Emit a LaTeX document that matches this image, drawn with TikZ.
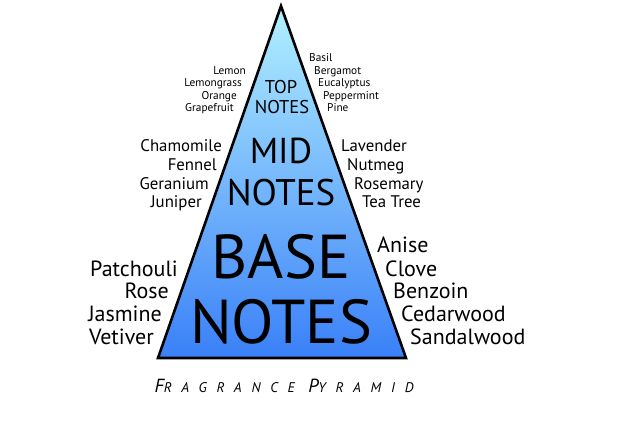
\documentclass[tikz,border=0pt]{standalone}
\usepackage{fontspec}
\setmainfont{PT Sans}
\newfontfamily\capfont[LetterSpace=70]{PT Sans Italic}
\usetikzlibrary{positioning}
\definecolor{pyrtop}{HTML}{B2F0FF}
\definecolor{pyrbot}{HTML}{3A80F8}

\begin{document}
\begin{tikzpicture}[
  x=1pt,y=-1pt,
  pyr/.style={line width=2.6pt, line join=miter, top color=pyrtop, bottom color=pyrbot},
  lnote/.style={anchor=base east, inner sep=0pt},
  rnote/.style={anchor=base west, inner sep=0pt},
  head/.style={anchor=base, inner sep=0pt},
  small/.style={font=\fontsize{11.3}{13}\selectfont},
  mid/.style={font=\fontsize{16.8}{19}\selectfont},
  big/.style={font=\fontsize{22}{25}\selectfont},
]
\useasboundingbox[fill=white] (0,0) rectangle (620,426);
% pyramid
\draw[pyr] (281,6) coordinate (apex) -- (158,358) coordinate (bl) -- (406,358) coordinate (br) -- cycle;
% headings
\node[head,font=\fontsize{18.5}{20}\selectfont] (toph1) at (281,93) {TOP};
\node[head,font=\fontsize{18.5}{20}\selectfont] (toph2) at (282,113) {NOTES};
\node[head,font=\fontsize{36}{38}\selectfont] (midh1) at (281,163) {MID};
\node[head,font=\fontsize{37}{40}\selectfont] (midh2) at (281,205) {NOTES};
\node[head,font=\fontsize{62}{64}\selectfont] (baseh1) at (281,278) {BASE};
\node[head,font=\fontsize{62}{64}\selectfont] (baseh2) at (281,343) {NOTES};
% top notes
\foreach \t/\x/\y [count=\i] in {Lemon/246/74,Lemongrass/242/86.5,Orange/237/99,Grapefruit/234/111.5}
  \node[lnote,small] (topl\i) at (\x,\y) {\t};
\foreach \t/\x/\y [count=\i] in {Basil/309/61.5,Bergamot/314/74,Eucalyptus/318/86.5,Peppermint/323/99,Pine/327/111.5}
  \node[rnote,small] (topr\i) at (\x,\y) {\t};
% mid notes
\foreach \t/\x/\y [count=\i] in {Chamomile/222/151,Fennel/217/170,Geranium/209/189,Juniper/202/207}
  \node[lnote,mid] (midl\i) at (\x,\y) {\t};
\foreach \t/\x/\y [count=\i] in {Lavender/341/151,Nutmeg/347/170,Rosemary/354/189,Tea Tree/362/207}
  \node[rnote,mid] (midr\i) at (\x,\y) {\t};
% base notes
\foreach \t/\x/\y [count=\i] in {Patchouli/178/276,Rose/169/298.5,Jasmine/162/321.5,Vetiver/154/344}
  \node[lnote,big] (basel\i) at (\x,\y) {\t};
\foreach \t/\x/\y [count=\i] in {Anise/377/252,Clove/385/276,Benzoin/393/298.5,Cedarwood/401/321.5,Sandalwood/410/344}
  \node[rnote,big] (baser\i) at (\x,\y) {\t};
% caption
\node[head] (caption) at (284,392) {\capfont\fontsize{19}{21}\selectfont F\fontsize{14}{16}\selectfont RAGRANCE \fontsize{19}{21}\selectfont P\fontsize{14}{16}\selectfont YRAMID};
\end{tikzpicture}
\end{document}
